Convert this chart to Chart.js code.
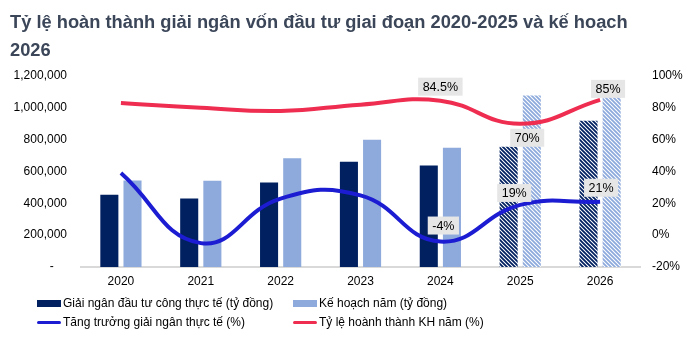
<!DOCTYPE html>
<html>
<head>
<meta charset="utf-8">
<script src="https://cdn.jsdelivr.net/npm/chart.js@4.4.1/dist/chart.umd.min.js"></script>
<style>
  html, body { margin: 0; padding: 0; background: #fff; }
  #wrap { position: relative; width: 700px; height: 341px; font-family: "Liberation Sans", Arial, sans-serif; }
  #title { position: absolute; left: 10px; top: 8px; width: 690px; font-size: 18.3px; font-weight: bold; color: #3b4659; line-height: 28px; }
  #chart { position: absolute; left: 0; top: 0; }
  .item { position: absolute; height: 16px; display: flex; align-items: center; font-size: 12px; color: #000; white-space: nowrap; }
  .mark { width: 24px; margin-right: 2px; }
</style>
</head>
<body>
<div id="wrap">
  <canvas id="chart" width="700" height="341"></canvas>
  <div id="title">Tỷ lệ hoàn thành giải ngân vốn đầu tư giai đoạn 2020-2025 và kế hoạch<br>2026</div>
  <div id="legend"></div>
</div>
<script>
// năm
const years = ['2020', '2021', '2022', '2023', '2024', '2025', '2026'];
// giải ngân thực tế và kế hoạch (tỷ đồng)
const disbursed = [454000, 431000, 531000, 662000, 637000, 756000, 919000];
const plan = [544000, 542000, 683000, 800000, 750000, 1077000, 1081000];
// tăng trưởng giải ngân và tỷ lệ hoàn thành (%)
const growth = [39, -5, 23, 25, -4, 19, 21];
const completion = [83, 80, 78, 82, 84.5, 70, 85];
// các năm kế hoạch vẽ bằng nét gạch
const planYears = [false, false, false, false, false, true, true];

const DARK = '#002060';
const LIGHT = '#8eaadc';
const BLUE = '#1c1cd2';
const RED = '#ee2d50';

Chart.defaults.font.family = '"Liberation Sans", Arial, sans-serif';
Chart.defaults.font.size = 12;
Chart.defaults.color = '#000';

function hatch(color) {
  const s = 4;
  const c = document.createElement('canvas');
  c.width = c.height = s;
  const g = c.getContext('2d');
  g.fillStyle = '#fff';
  g.fillRect(0, 0, s, s);
  g.strokeStyle = color;
  g.lineWidth = 1.8;
  g.beginPath();
  g.moveTo(-1, -1); g.lineTo(s + 1, s + 1);
  g.moveTo(-1, s - 1); g.lineTo(1, s + 1);
  g.moveTo(s - 1, -1); g.lineTo(s + 1, 1);
  g.stroke();
  return g.createPattern(c, 'repeat');
}

const darkHatch = hatch(DARK);
const lightHatch = hatch(LIGHT);

// nhãn giá trị có nền xám trên đường
const valueLabels = {
  id: 'valueLabels',
  afterDatasetsDraw(chart, args, opts) {
    const ctx = chart.ctx;
    ctx.save();
    ctx.font = '12.5px "Liberation Sans", Arial, sans-serif';
    ctx.textAlign = 'center';
    ctx.textBaseline = 'middle';
    opts.items.forEach(it => {
      const meta = chart.getDatasetMeta(it.dataset);
      const v = chart.data.datasets[it.dataset].data[it.index];
      const pt = meta.data[it.index];
      const txt = v + '%';
      const w = ctx.measureText(txt).width + 9;
      const h = 18;
      const x = pt.x + it.dx, y = pt.y + it.dy;
      ctx.fillStyle = '#e6e6e6';
      ctx.fillRect(x - w / 2, y - h / 2, w, h);
      ctx.fillStyle = '#000';
      ctx.fillText(txt, x, y + 1);
    });
    ctx.restore();
  }
};

const chart = new Chart(document.getElementById('chart'), {
  type: 'bar',
  data: {
    labels: years,
    datasets: [
      {
        label: 'Giải ngân đầu tư công thực tế (tỷ đồng)',
        data: disbursed,
        backgroundColor: planYears.map(p => p ? darkHatch : DARK),
        legendColor: DARK,
        yAxisID: 'y',
        order: 2,
        categoryPercentage: 0.58,
        barPercentage: 0.78
      },
      {
        label: 'Kế hoạch năm (tỷ đồng)',
        data: plan,
        backgroundColor: planYears.map(p => p ? lightHatch : LIGHT),
        legendColor: LIGHT,
        yAxisID: 'y',
        order: 2,
        categoryPercentage: 0.58,
        barPercentage: 0.78
      },
      {
        type: 'line',
        label: 'Tăng trưởng giải ngân thực tế (%)',
        data: growth,
        yAxisID: 'y1',
        borderColor: BLUE,
        legendColor: BLUE,
        borderWidth: 4,
        tension: 0.45,
        pointRadius: 0,
        order: 0
      },
      {
        type: 'line',
        label: 'Tỷ lệ hoành thành KH năm (%)',
        data: completion,
        yAxisID: 'y1',
        borderColor: RED,
        legendColor: RED,
        borderWidth: 4,
        tension: 0.45,
        pointRadius: 0,
        order: 1
      }
    ]
  },
  options: {
    responsive: false,
    animation: false,
    layout: { padding: { top: 76, left: 0, right: 0, bottom: 0 } },
    plugins: {
      legend: { display: false },
      tooltip: { enabled: false },
      valueLabels: {
        items: [
          { dataset: 3, index: 4, dx: 0, dy: -14 },
          { dataset: 3, index: 5, dx: 7, dy: 14 },
          { dataset: 3, index: 6, dx: 8, dy: -11 },
          { dataset: 2, index: 4, dx: 3, dy: -16 },
          { dataset: 2, index: 5, dx: -6, dy: -12 },
          { dataset: 2, index: 6, dx: 1, dy: -14 }
        ]
      }
    },
    scales: {
      x: {
        grid: { display: false, drawTicks: false },
        border: { color: '#d9d9d9', width: 2 },
        ticks: { padding: 7 },
        afterFit: s => { s.height = 74; }
      },
      y: {
        position: 'left',
        min: 0,
        max: 1200000,
        grid: { display: false, drawTicks: false },
        border: { display: false },
        ticks: {
          stepSize: 200000,
          padding: 14,
          callback: v => v === 0 ? '-    ' : v.toLocaleString('en-US')
        },
        afterFit: s => { s.width = 81; }
      },
      y1: {
        position: 'right',
        min: -20,
        max: 100,
        grid: { display: false, drawTicks: false },
        border: { display: false },
        ticks: { stepSize: 20, padding: 12, callback: v => v + '%' },
        afterFit: s => { s.width = 60; }
      }
    }
  },
  plugins: [valueLabels]
});

// chú giải hai cột
const legendPos = [[37, 295], [293, 295], [37, 314], [293, 314]];
const legend = document.getElementById('legend');
chart.data.datasets.forEach((ds, i) => {
  const el = document.createElement('div');
  el.className = 'item';
  el.style.left = legendPos[i][0] + 'px';
  el.style.top = legendPos[i][1] + 'px';
  const m = document.createElement('span');
  m.className = 'mark';
  if (ds.type === 'line') {
    m.style.height = '3px';
    m.style.borderRadius = '2px';
  } else {
    m.style.height = '7px';
  }
  m.style.background = ds.legendColor;
  el.appendChild(m);
  el.appendChild(document.createTextNode(ds.label));
  legend.appendChild(el);
});
</script>
</body>
</html>
